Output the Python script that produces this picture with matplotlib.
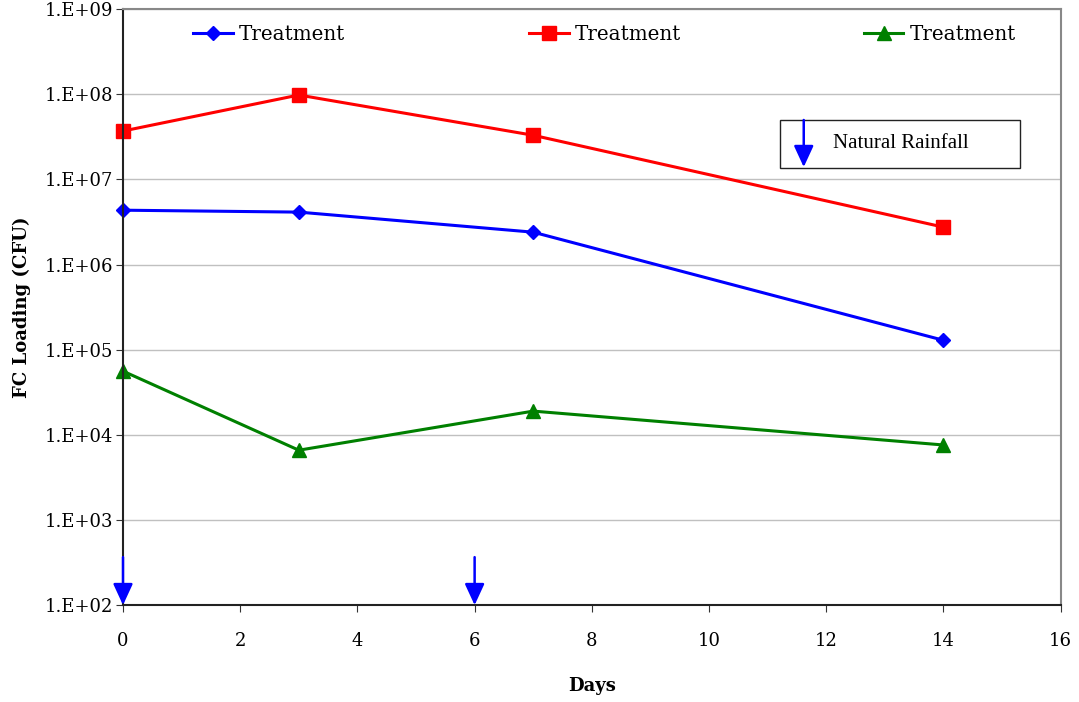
import matplotlib
matplotlib.use("Agg")
import matplotlib.pyplot as plt
from matplotlib.patches import Rectangle
from matplotlib.legend import Legend

plt.rcParams['font.family'] = ['DejaVu Serif', 'Liberation Serif']

days = [0, 3, 7, 14]
blue_vals = [4.35e6, 4.13e6, 2.4e6, 1.29e5]
red_vals = [3.7e7, 9.8e7, 3.3e7, 2.75e6]
green_vals = [5.6e4, 6.6e3, 1.9e4, 7.6e3]
series_labels = ["Treatment", "Treatment", "Treatment"]
rain_days = [0, 6]
y_ticks = [1e2, 1e3, 1e4, 1e5, 1e6, 1e7, 1e8, 1e9]
y_tick_labels = ["1.E+02", "1.E+03", "1.E+04", "1.E+05", "1.E+06", "1.E+07", "1.E+08", "1.E+09"]
x_ticks = [0, 2, 4, 6, 8, 10, 12, 14, 16]

fig = plt.figure(figsize=(10.79, 7.02), dpi=100)
ax = fig.add_axes([0.114, 0.138, 0.869, 0.849])

lines = []
lines += ax.plot(days, blue_vals, color="#0000ff", lw=2.2, marker="D", ms=7, clip_on=False)
lines += ax.plot(days, red_vals, color="#ff0000", lw=2.2, marker="s", ms=10, clip_on=False)
lines += ax.plot(days, green_vals, color="#008000", lw=2.2, marker="^", ms=10, clip_on=False)

ax.set_yscale("log")
ax.set_ylim(1e2, 1e9)
ax.set_xlim(0, 16)
ax.set_yticks(y_ticks)
ax.set_yticklabels(y_tick_labels)
ax.minorticks_off()
ax.set_xticks(x_ticks)
ax.tick_params(axis="both", labelsize=13, direction="out", length=5, color="#333333")
ax.tick_params(axis="x", pad=14)
ax.tick_params(axis="y", pad=2)
ax.grid(axis="y", color="#c0c0c0", lw=1)
ax.set_axisbelow(True)

for s in ["top", "right"]:
    ax.spines[s].set_color("#888888")
    ax.spines[s].set_linewidth(1.5)
for s in ["left", "bottom"]:
    ax.spines[s].set_color("#222222")
    ax.spines[s].set_linewidth(1.5)

ax.set_xlabel("Days", fontsize=13, fontweight="bold", labelpad=20)
ax.set_ylabel("FC Loading (CFU)", fontsize=13, fontweight="bold", labelpad=10)

arrow_style = dict(arrowstyle="-|>,head_length=1.3,head_width=0.6",
                   color="#0000ff", lw=1.8, shrinkA=0, shrinkB=0)

# rainfall arrows at the bottom
for d in rain_days:
    ax.annotate("", xy=(d, 1e2), xytext=(d, 3.66e2), arrowprops=arrow_style,
                annotation_clip=False)

# "Natural Rainfall" box
ax.add_patch(Rectangle((0.701, 0.733), 0.256, 0.081, transform=ax.transAxes,
                       fill=False, edgecolor="#222222", lw=1))
ax.annotate("", xy=(0.726, 0.735), xytext=(0.726, 0.814), xycoords="axes fraction",
            arrowprops=arrow_style)
ax.text(0.757, 0.774, "Natural Rainfall", transform=ax.transAxes, fontsize=15,
        va="center", ha="left", family="Liberation Serif")

# three legend entries spread across the top
leg_x = [0.0746, 0.433, 0.79]
for ln, lab, lx in zip(lines, series_labels, leg_x):
    lg = Legend(ax, [ln], [lab], loc="center left", bbox_to_anchor=(lx, 0.958),
                frameon=False, fontsize=14.3, handlelength=2.0, handletextpad=0.3,
                borderpad=0, borderaxespad=0)
    ax.add_artist(lg)

fig.savefig("out.png", dpi=100)
